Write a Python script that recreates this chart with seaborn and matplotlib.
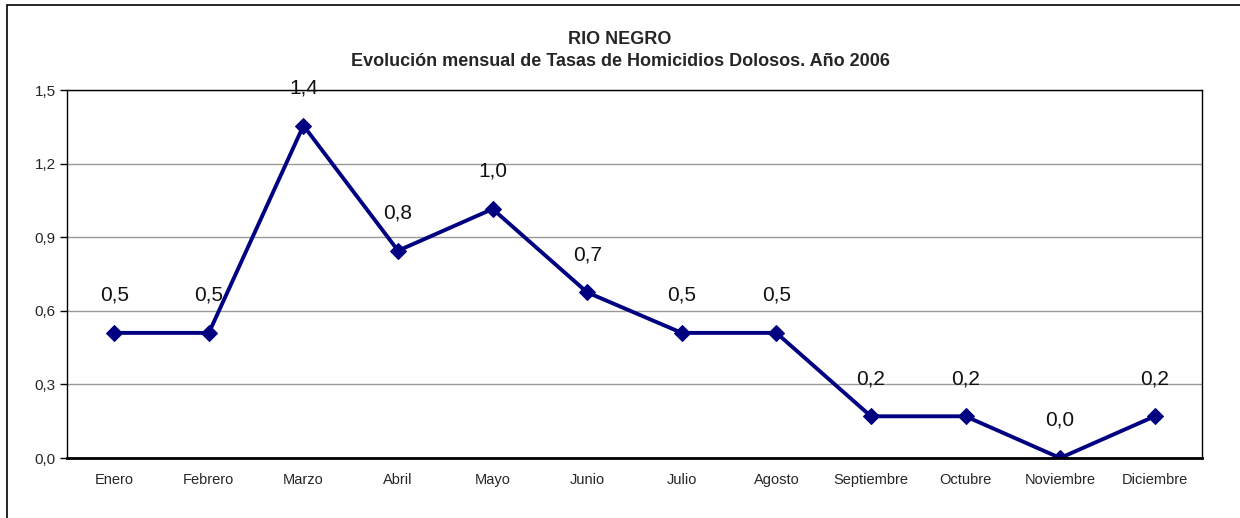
import numpy as np
import pandas as pd
import seaborn as sns
import matplotlib.pyplot as plt
from matplotlib.patches import Rectangle

# Datos
meses = ['Enero', 'Febrero', 'Marzo', 'Abril', 'Mayo', 'Junio', 'Julio',
         'Agosto', 'Septiembre', 'Octubre', 'Noviembre', 'Diciembre']
tasas = [0.51, 0.51, 1.355, 0.845, 1.015, 0.675, 0.51, 0.51, 0.17, 0.17, 0.0, 0.17]
etiquetas = ['0,5', '0,5', '1,4', '0,8', '1,0', '0,7', '0,5', '0,5', '0,2', '0,2', '0,0', '0,2']
yticks = [0.0, 0.3, 0.6, 0.9, 1.2, 1.5]
ytick_labels = ['0,0', '0,3', '0,6', '0,9', '1,2', '1,5']

df = pd.DataFrame({'pos': np.arange(len(meses)), 'tasa': tasas})

sns.set_style('white')
plt.rcParams['font.family'] = ['Liberation Sans', 'DejaVu Sans']

fig = plt.figure(figsize=(12.4, 5.18), dpi=100)
ax = fig.add_axes([67 / 1240, 60 / 518, 1135 / 1240, 368 / 518])

sns.lineplot(data=df, x='pos', y='tasa', ax=ax, color='#000080', linewidth=2.8,
             marker='D', markersize=8.5, markeredgecolor='#000080')

for x, y, t in zip(df['pos'], df['tasa'], etiquetas):
    ax.annotate(t, (x, y), xytext=(0, 27), textcoords='offset points',
                ha='center', va='center', fontsize=15, color='#111111')

ax.set_xlim(-0.5, len(meses) - 0.5)
ax.set_ylim(0, 1.5)
ax.set_yticks(yticks)
ax.set_yticklabels(ytick_labels, fontsize=11)
ax.set_xticks(df['pos'])
ax.set_xticklabels(meses, fontsize=10.5)
ax.set_xticks(np.arange(-0.5, len(meses), 1), minor=True)
ax.tick_params(axis='x', which='major', length=0, pad=11)
ax.tick_params(axis='x', which='minor', length=5, width=1, direction='out', color='black')
ax.tick_params(axis='y', length=5, width=1, direction='out', color='black', left=True, pad=3)
ax.yaxis.grid(True, color='#999999', linewidth=1)
ax.set_axisbelow(True)
for s in ax.spines.values():
    s.set_color('black')
    s.set_linewidth(1)
ax.spines['bottom'].set_linewidth(2)
ax.set_xlabel('')
ax.set_ylabel('')

fig.text(0.5, 1 - 40 / 518, 'RIO NEGRO', ha='center', va='center',
         fontsize=13, fontweight='bold')
fig.text(0.5, 1 - 62 / 518, 'Evolución mensual de Tasas de Homicidios Dolosos. Año 2006',
         ha='center', va='center', fontsize=13, fontweight='bold')

# Marco exterior del grafico
fig.patches.append(Rectangle((7 / 1240, -0.1), 1.2, 1 - 5 / 518 + 0.1,
                             transform=fig.transFigure, fill=False,
                             edgecolor='black', linewidth=1.2))

fig.savefig('out.png', dpi=100)
